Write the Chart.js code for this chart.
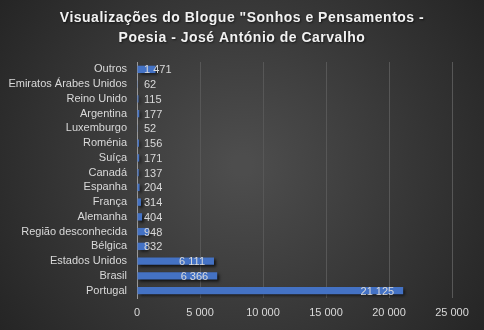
<!DOCTYPE html>
<html>
<head>
<meta charset="utf-8">
<script src="https://cdn.jsdelivr.net/npm/chart.js"></script>
<style>
    html, body { margin: 0; padding: 0; background: #2b2b2b; }
    #wrap { width: 484px; height: 330px; }
</style>
</head>
<body>
<div id="wrap"><canvas id="chart" width="484" height="330"></canvas></div>
<script>
const countries = [
    'Outros', 'Emiratos Árabes Unidos', 'Reino Unido', 'Argentina', 'Luxemburgo',
    'Roménia', 'Suíça', 'Canadá', 'Espanha', 'França', 'Alemanha',
    'Região desconhecida', 'Bélgica', 'Estados Unidos', 'Brasil', 'Portugal'
];
const views = [1471, 62, 115, 177, 52, 156, 171, 137, 204, 314, 404, 948, 832, 6111, 6366, 21125];
const titleLines = ['Visualizações do Blogue "Sonhos e Pensamentos -', 'Poesia - José António de Carvalho'];

const textColor = '#d9d9d9';
const fontFamily = '"Liberation Sans", Arial, sans-serif';

const fmt = v => String(v).replace(/\B(?=(\d{3})+(?!\d))/g, ' ');

const backgroundPlugin = {
    id: 'bg',
    beforeDraw(chart) {
        const ctx = chart.ctx;
        const w = chart.width, h = chart.height;
        ctx.save();
        const g = ctx.createRadialGradient(w / 2, h / 2, 10, w / 2, h / 2, w * 0.62);
        g.addColorStop(0, '#4d4d4d');
        g.addColorStop(1, '#242424');
        ctx.fillStyle = g;
        ctx.fillRect(0, 0, w, h);
        ctx.restore();
    },
    afterDraw(chart) {
        // title, drawn by hand so it can be letter-spaced
        const ctx = chart.ctx;
        ctx.save();
        ctx.font = 'bold 14px ' + fontFamily;
        ctx.letterSpacing = '0.5px';
        ctx.textAlign = 'center';
        ctx.textBaseline = 'middle';
        ctx.fillStyle = '#f2f2f2';
        ctx.shadowColor = 'rgba(0,0,0,0.6)';
        ctx.shadowOffsetX = 1;
        ctx.shadowOffsetY = 1;
        ctx.shadowBlur = 2;
        titleLines.forEach((line, i) => ctx.fillText(line, chart.width / 2, 18 + i * 20));
        ctx.restore();
    }
};

const shadowPlugin = {
    id: 'barShadow',
    beforeDatasetsDraw(chart) {
        const ctx = chart.ctx;
        ctx.save();
        ctx.shadowColor = 'rgba(0,0,0,0.7)';
        ctx.shadowOffsetX = 2;
        ctx.shadowOffsetY = 2;
        ctx.shadowBlur = 3;
    },
    afterDatasetsDraw(chart) {
        chart.ctx.restore();
        // value labels at the inside end, pushed right when the bar is too short
        const ctx = chart.ctx;
        const meta = chart.getDatasetMeta(0);
        const left = chart.chartArea.left;
        ctx.save();
        ctx.font = '11px ' + fontFamily;
        ctx.fillStyle = textColor;
        ctx.textBaseline = 'middle';
        ctx.textAlign = 'left';
        meta.data.forEach((bar, i) => {
            const txt = fmt(views[i]);
            const w = ctx.measureText(txt).width;
            const x = Math.max(bar.x - 9 - w, left + 7);
            ctx.fillText(txt, x, bar.y + 1);
        });
        ctx.restore();
    }
};

const ctx = document.getElementById('chart').getContext('2d');
new Chart(ctx, {
    type: 'bar',
    data: {
        labels: countries,
        datasets: [
            {
                data: views,
                backgroundColor: c => {
                    const el = c.element;
                    if (!el || el.y === undefined || isNaN(el.y)) return '#4472c4';
                    const g = c.chart.ctx.createLinearGradient(0, el.y - 4, 0, el.y + 4);
                    g.addColorStop(0, '#5585dc');
                    g.addColorStop(1, '#3b64b4');
                    return g;
                },
                borderWidth: 0,
                barPercentage: 0.5,
                categoryPercentage: 1
            }
        ]
    },
    options: {
        indexAxis: 'y',
        responsive: false,
        animation: false,
        layout: {
            padding: { top: 62, right: 32, bottom: 0, left: 0 }
        },
        plugins: {
            legend: { display: false },
            title: { display: false },
            tooltip: { enabled: false }
        },
        scales: {
            x: {
                min: 0,
                max: 25000,
                ticks: {
                    stepSize: 5000,
                    color: textColor,
                    font: { family: fontFamily, size: 11 },
                    padding: 8,
                    maxRotation: 0,
                    callback: v => fmt(v)
                },
                grid: {
                    color: '#575757',
                    drawTicks: false
                },
                border: { display: false },
                afterFit: s => { s.height = 32; }
            },
            y: {
                ticks: {
                    color: textColor,
                    font: { family: fontFamily, size: 11 },
                    padding: 10,
                    autoSkip: false
                },
                grid: { display: false, drawTicks: false },
                border: { color: '#9a9a9a', width: 1 },
                afterFit: s => { s.width = 137; }
            }
        }
    },
    plugins: [backgroundPlugin, shadowPlugin]
});
</script>
</body>
</html>
